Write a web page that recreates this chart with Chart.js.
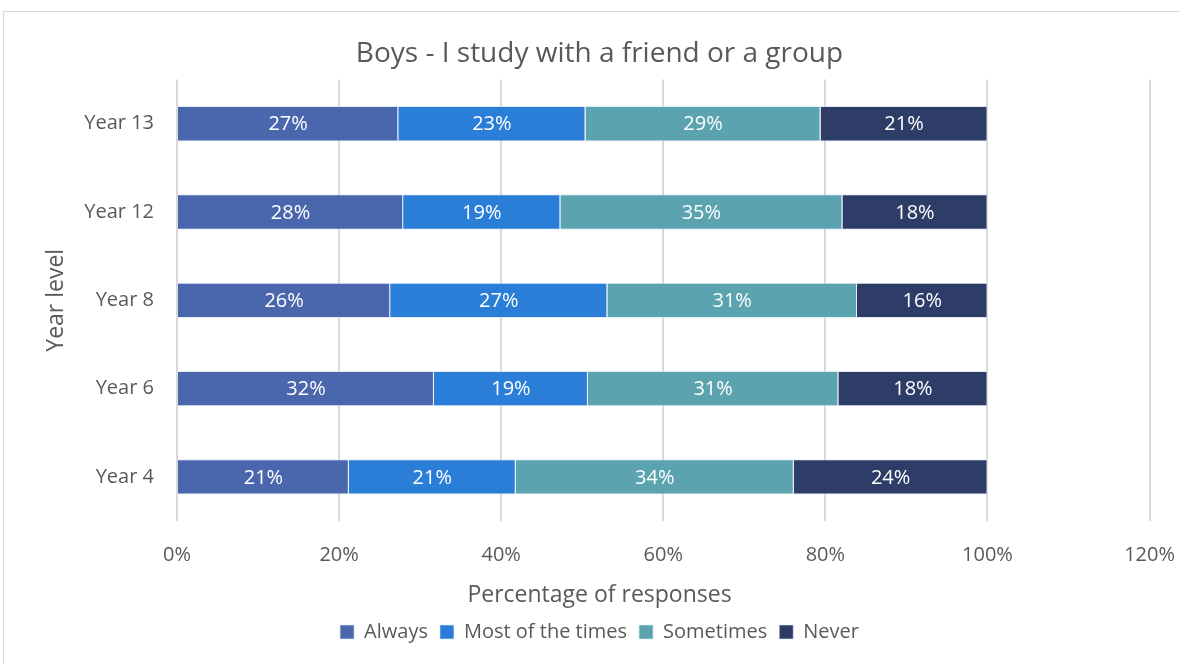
<!DOCTYPE html>
<html>
<head>
<meta charset="utf-8">
<script src="https://cdn.jsdelivr.net/npm/chart.js@4.4.0/dist/chart.umd.min.js"></script>
<style>
  html, body { margin: 0; padding: 0; background: #fff; overflow: hidden; }
  #frame { position: absolute; left: 3px; top: 11px; width: 1200px; height: 700px; border: 1px solid #d9d9d9; }
  #wrap { position: absolute; left: 0; top: 0; width: 1180px; height: 664px; overflow: hidden; }
</style>
</head>
<body>
<div id="frame"></div>
<div id="wrap"><canvas id="c" width="1199" height="664"></canvas></div>
<script>
  // Year levels, top to bottom as drawn.
  const YEARS = ['Year 13', 'Year 12', 'Year 8', 'Year 6', 'Year 4'];

  // Percent of responses per answer.
  const ALWAYS = [27.3, 27.9, 26.3, 31.7, 21.2];
  const MOST = [23.1, 19.4, 26.8, 19.0, 20.6];
  const SOMETIMES = [29.0, 34.8, 30.8, 30.9, 34.3];
  const NEVER = [20.6, 17.9, 16.1, 18.4, 23.9];

  const X_TICKS = [0, 20, 40, 60, 80, 100, 120];

  const FONT = '"Open Sans", "Noto Sans", sans-serif';
  const GREY = '#595959';

  // Excel-style data labels, centred in each segment.
  const barLabels = {
    id: 'barLabels',
    afterDatasetsDraw(chart) {
      const ctx = chart.ctx;
      ctx.save();
      ctx.fillStyle = '#fff';
      ctx.font = '20px ' + FONT;
      ctx.textAlign = 'center';
      ctx.textBaseline = 'middle';
      chart.data.datasets.forEach((ds, i) => {
        chart.getDatasetMeta(i).data.forEach((bar, j) => {
          const { x, y, base } = bar.getProps(['x', 'y', 'base'], true);
          ctx.fillText(Math.round(ds.data[j]) + '%', (x + base) / 2, y + 1);
        });
      });
      ctx.restore();
    },
  };

  function series(label, data, color) {
    return {
      label,
      data,
      backgroundColor: color,
      borderColor: 'rgba(220,230,245,0.8)',
      borderWidth: { top: 1, bottom: 1, left: 0, right: 1 },
      borderSkipped: false,
      barPercentage: 0.4,
      categoryPercentage: 1,
    };
  }

  new Chart(document.getElementById('c').getContext('2d'), {
    type: 'bar',
    data: {
      labels: YEARS,
      datasets: [
        series('Always', ALWAYS, '#4a67ae'),
        series('Most of the times', MOST, '#2b7ed8'),
        series('Sometimes', SOMETIMES, '#5ba3ae'),
        series('Never', NEVER, '#2d3d68'),
      ],
    },
    options: {
      indexAxis: 'y',
      responsive: false,
      animation: false,
      layout: { padding: { left: 0, right: 0, top: 37, bottom: 12 } },
      scales: {
        x: {
          stacked: true,
          min: 0,
          max: 120,
          afterBuildTicks(axis) {
            axis.ticks = X_TICKS.map((v) => ({ value: v }));
          },
          afterFit(scale) {
            scale.height -= 5;
          },
          grid: { color: '#d9d9d9', lineWidth: 2, drawTicks: false },
          border: { display: false },
          ticks: {
            color: GREY,
            font: { family: FONT, size: 20, lineHeight: 1 },
            padding: 24,
            callback: (v) => v + '%',
          },
        },
        y: {
          stacked: true,
          afterFit(scale) {
            scale.width = 177;
          },
          grid: { display: false },
          border: { display: false },
          ticks: {
            color: GREY,
            font: { family: FONT, size: 20 },
            padding: 15,
          },
          title: {
            display: true,
            text: 'Year level',
            color: GREY,
            font: { family: FONT, size: 23 },
            padding: { top: 43, bottom: 0 },
          },
        },
      },
      plugins: {
        title: {
          display: true,
          text: 'Boys - I study with a friend or a group',
          color: GREY,
          font: { family: FONT, size: 28, weight: 'normal' },
          padding: { top: 0, bottom: 9 },
        },
        legend: {
          position: 'bottom',
          // the x-axis title sits centred over the legend, as in the original
          title: {
            display: true,
            text: 'Percentage of responses',
            color: GREY,
            font: { family: FONT, size: 23, lineHeight: 1 },
            padding: { top: 0, bottom: 3 },
          },
          labels: {
            color: GREY,
            font: { family: FONT, size: 20 },
            boxWidth: 14,
            boxHeight: 14,
            padding: 12,
          },
        },
        tooltip: { enabled: false },
      },
    },
    plugins: [barLabels],
  });
</script>
</body>
</html>
